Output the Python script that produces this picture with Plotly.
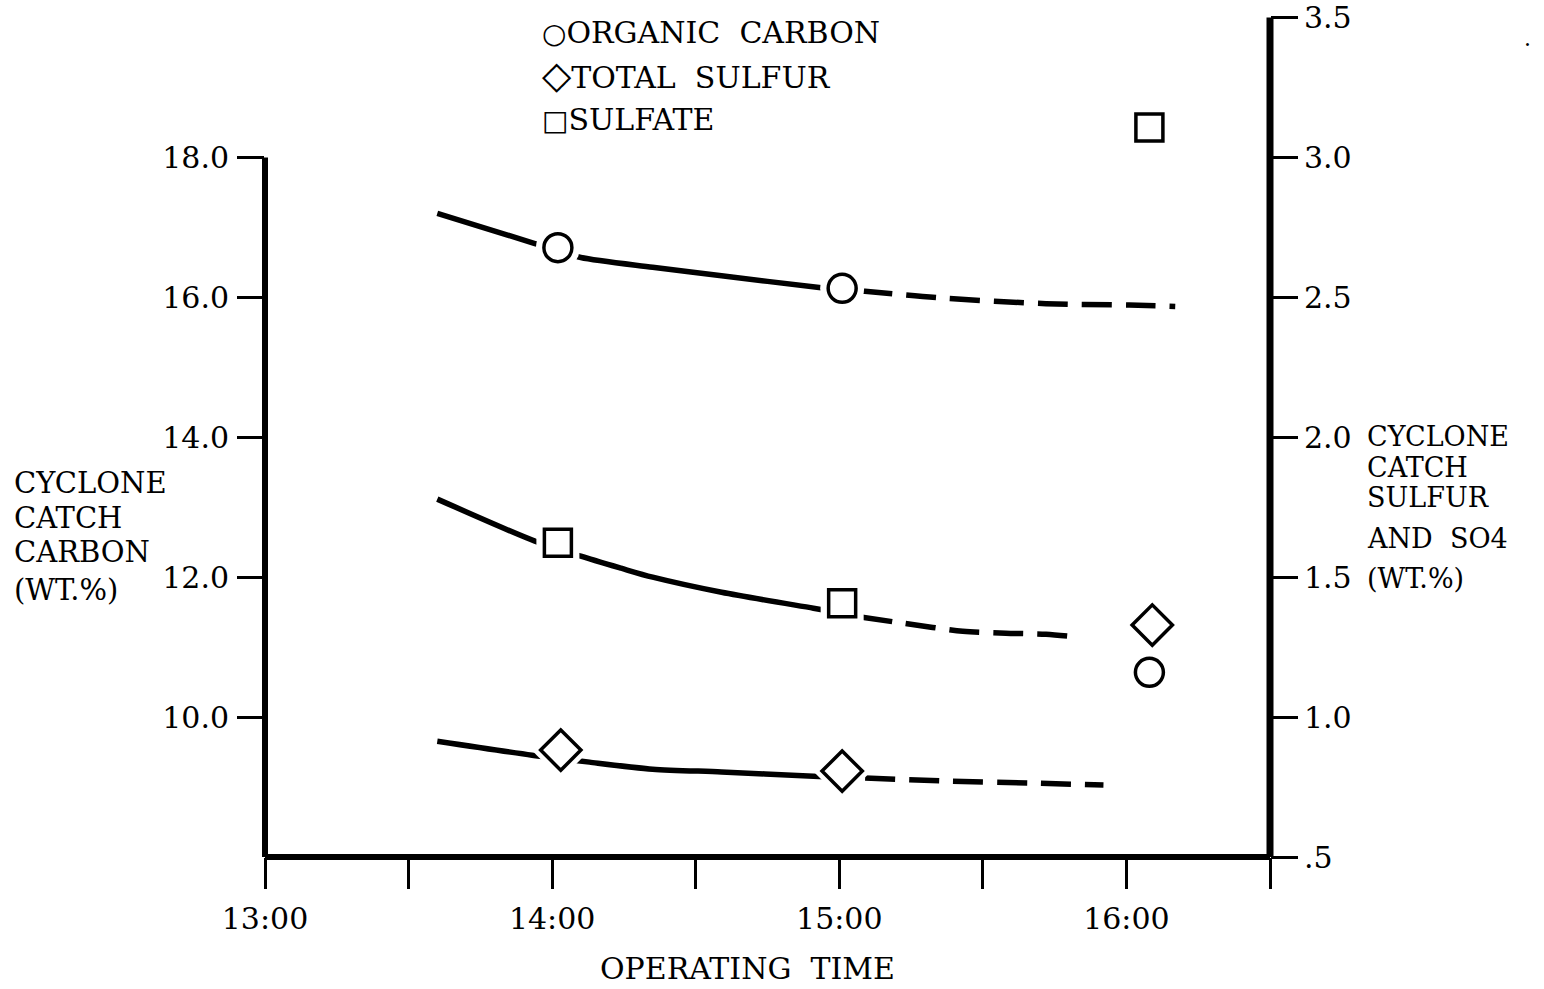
import plotly.graph_objects as go

# ---------------- data ----------------
time_ticks = [13.0, 13.5, 14.0, 14.5, 15.0, 15.5, 16.0, 16.5]
time_labels = ["13:00", "", "14:00", "", "15:00", "", "16:00", ""]
carbon_ticks = [10, 12, 14, 16, 18]
carbon_labels = ["10.0", "12.0", "14.0", "16.0", "18.0"]
sulfur_ticks = [0.5, 1.0, 1.5, 2.0, 2.5, 3.0, 3.5]
sulfur_labels = [".5", "1.0", "1.5", "2.0", "2.5", "3.0", "3.5"]

# measured samples
carbon_times = [14.02, 15.01, 16.08]
organic_carbon = [16.71, 16.13, 10.64]
sulfur_times = [14.03, 15.01, 16.09]
total_sulfur = [0.882, 0.807, 1.329]
sulfate_times = [14.02, 15.01, 16.08]
sulfate = [1.623, 1.407, 3.107]

# hand-drawn trend curves: solid part, then dashed extrapolation
carbon_fit_t = [13.60, 13.94, 14.02, 14.10, 14.35, 14.59, 14.93, 15.01]
carbon_fit = [17.20, 16.77, 16.67, 16.57, 16.43, 16.31, 16.14, 16.11]
carbon_ext_t = [15.08, 15.36, 15.72, 16.01, 16.17]
carbon_ext = [16.09, 15.99, 15.91, 15.89, 15.87]

sulfate_fit_t = [13.60, 13.94, 14.02, 14.10, 14.24, 14.35, 14.59, 14.91, 15.00]
sulfate_fit = [1.779, 1.629, 1.604, 1.575, 1.532, 1.500, 1.446, 1.389, 1.373]
sulfate_ext_t = [15.08, 15.22, 15.43, 15.58, 15.72, 15.83]
sulfate_ext = [1.357, 1.336, 1.307, 1.300, 1.296, 1.286]

sulfur_fit_t = [13.60, 13.93, 14.03, 14.13, 14.35, 14.59, 14.91, 15.01]
sulfur_fit = [0.914, 0.864, 0.852, 0.839, 0.814, 0.804, 0.789, 0.786]
sulfur_ext_t = [15.09, 15.39, 15.67, 15.92]
sulfur_ext = [0.782, 0.771, 0.764, 0.757]

# ---------------- layout helpers ----------------
W, H = 1544, 989
L, R, T, B = 265, 1270, 17, 857
FONT = "DejaVu Serif"
EPS = 0.002  # tiny headroom so the 3.5 label at the very top is kept


def px(x):
    return (x - L) / (R - L)


def py(y):
    return (B - y) / (B - T)


fig = go.Figure()

LW = 5.5
DASH = "30px,14px"

curves = [
    (carbon_fit_t, carbon_fit, carbon_ext_t, carbon_ext, "y"),
    (sulfate_fit_t, sulfate_fit, sulfate_ext_t, sulfate_ext, "y2"),
    (sulfur_fit_t, sulfur_fit, sulfur_ext_t, sulfur_ext, "y2"),
]
for ft, fv, et, ev, ax in curves:
    fig.add_trace(go.Scatter(x=ft, y=fv, yaxis=ax, mode="lines",
                             line=dict(color="black", width=LW, shape="spline", smoothing=0.8),
                             showlegend=False, hoverinfo="skip"))
    fig.add_trace(go.Scatter(x=et, y=ev, yaxis=ax, mode="lines",
                             line=dict(color="black", width=LW, dash=DASH, shape="spline", smoothing=0.8),
                             showlegend=False, hoverinfo="skip"))

series = [
    (carbon_times, organic_carbon, "y", "circle", 28, 44, "ORGANIC CARBON"),
    (sulfate_times, sulfate, "y2", "square", 27, 43, "SULFATE"),
    (sulfur_times, total_sulfur, "y2", "diamond", 31, 45, "TOTAL SULFUR"),
]
# white knock-out halo so the curves stop short of each symbol
for t, v, ax, sym, size, halo, name in series:
    fig.add_trace(go.Scatter(x=t, y=v, yaxis=ax, mode="markers",
                             marker=dict(symbol=sym, size=halo, color="white", line=dict(width=0)),
                             showlegend=False, hoverinfo="skip"))
for t, v, ax, sym, size, halo, name in series:
    fig.add_trace(go.Scatter(x=t, y=v, yaxis=ax, mode="markers", name=name,
                             marker=dict(symbol=sym, size=size, color="white",
                                         line=dict(color="black", width=3.5)),
                             showlegend=False))

tickfont = dict(family=FONT, size=30, color="black")
fig.update_layout(
    template="none",
    width=W, height=H,
    margin=dict(l=L, r=W - R, t=T, b=H - B, pad=0, autoexpand=False),
    paper_bgcolor="white", plot_bgcolor="white",
    showlegend=False,
    xaxis=dict(range=[13.0, 16.5], tickvals=time_ticks, ticktext=time_labels,
               ticks="outside", ticklen=31, tickwidth=3, tickcolor="black",
               showgrid=False, zeroline=False, showline=False, automargin=False,
               tickfont=tickfont, ticklabelstandoff=4),
    yaxis=dict(range=[8, 20 + 4 * EPS], tickvals=carbon_ticks, ticktext=carbon_labels,
               ticks="outside", ticklen=27, tickwidth=3, tickcolor="black",
               showgrid=False, zeroline=False, showline=False, automargin=False,
               tickfont=tickfont, ticklabelstandoff=2),
    yaxis2=dict(range=[0.5, 3.5 + EPS], tickvals=sulfur_ticks, ticktext=sulfur_labels,
                overlaying="y", side="right",
                ticks="outside", ticklen=27, tickwidth=3, tickcolor="black",
                showgrid=False, zeroline=False, showline=False, automargin=False,
                tickfont=tickfont, ticklabelstandoff=0),
)

# axis lines (left axis stops at 18.0)
fig.add_shape(type="line", xref="paper", yref="y", x0=0, x1=0, y0=8, y1=18,
              line=dict(color="black", width=6))
fig.add_shape(type="line", xref="paper", yref="y2", x0=1, x1=1, y0=0.5, y1=3.5,
              line=dict(color="black", width=7))
fig.add_shape(type="line", xref="paper", yref="paper", x0=0, x1=1, y0=0, y1=0,
              line=dict(color="black", width=6))

ann = []


def text(x, y, s, anchor="left", size=28):
    ann.append(dict(x=px(x), y=py(y), xref="paper", yref="paper", text=s,
                    showarrow=False, xanchor=anchor, yanchor="middle",
                    font=dict(family=FONT, size=size, color="black")))


left_title = ["CYCLONE", "CATCH", "CARBON", "(WT.%)"]
for s, y in zip(left_title, [483, 518, 552, 590]):
    text(12, y, s, size=29)
right_title = ["CYCLONE", "CATCH", "SULFUR", "AND  SO4", "(WT.%)"]
for s, y in zip(right_title, [436, 467, 498, 538, 578]):
    text(1365, y, s, size=27)
text(747, 968, "OPERATING  TIME", anchor="center", size=30)

legend_items = [("○", "ORGANIC  CARBON", 32, 28), ("◇", "TOTAL  SULFUR", 75, 38), ("□", "SULFATE", 119, 28)]
for sym, lab, y, ssize in legend_items:
    text(540, y, '<span style="font-size:%dpx">%s</span>%s' % (ssize, sym, lab), size=30)

text(1527, 45, "·", anchor="center", size=22)

fig.update_layout(annotations=ann)
fig.write_html("out.html", config={"displayModeBar": False},
               post_script="document.body.style.margin='0px';")
